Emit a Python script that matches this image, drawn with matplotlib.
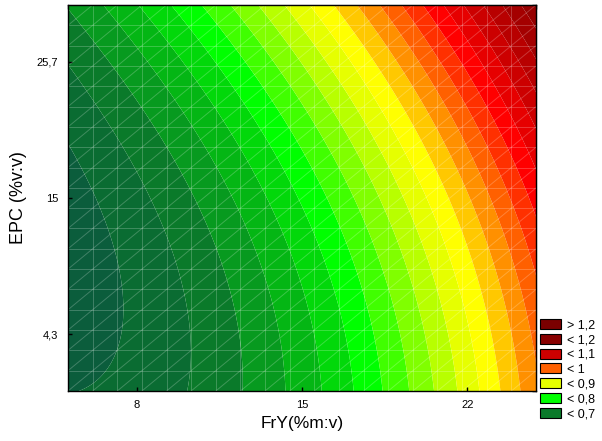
import numpy as np
import matplotlib
matplotlib.use("Agg")
import matplotlib.pyplot as plt
from matplotlib.patches import Patch
from matplotlib.collections import LineCollection

plt.rcParams['font.family'] = ['Liberation Sans', 'DejaVu Sans']

# ---- data -------------------------------------------------------------
fry_range = [5.1, 24.9]          # FrY (%m:v) axis range
epc_range = [-0.13, 30.13]       # EPC (%v:v) axis range
center = [15.0, 15.0]            # design centre (FrY, EPC)

# fitted response surface (centred variables u=FrY-15, v=EPC-15)
b0 = 0.7783
b_fry = 0.01993
b_epc = 0.005168
b_fry2 = 0.000599
b_epc2 = 0.0001568
b_fry_epc = 0.0002462
b_fry2_epc = -0.00001008

contour_levels = [0.6, 0.65, 0.675, 0.7, 0.725, 0.75, 0.775, 0.8, 0.825, 0.85,
                  0.875, 0.9, 0.925, 0.95, 0.975, 1.0, 1.025, 1.05, 1.075, 1.1,
                  1.125, 1.15, 1.175, 1.2, 1.3]
band_colors = ['#0b5d3c', '#0a6c32', '#0a7a2a', '#079a1f', '#04b614', '#02d80a',
               '#00ff00', '#40ff00', '#80ff00', '#b8ff00', '#e6ff00', '#ffff00',
               '#ffc800', '#ff9000', '#ff6000', '#ff3000', '#ff0000', '#e60000',
               '#cc0000', '#b80000', '#a40000', '#960000', '#880000', '#7a0000']

legend_labels = ['> 1,2', '< 1,2', '< 1,1', '< 1', '< 0,9', '< 0,8', '< 0,7']
legend_upper = [1.3, 1.2, 1.1, 1.0, 0.9, 0.8, 0.7]

x_ticks = [8, 15, 22]
x_ticklabels = ['8', '15', '22']
y_ticks = [4.3, 15, 25.7]
y_ticklabels = ['4,3', '15', '25,7']

mesh_cells = 19
# -----------------------------------------------------------------------

fig = plt.figure(figsize=(6.02, 4.41), dpi=100)
ax = fig.add_axes([68/602, 1-391/441, (536-68)/602, (391-5)/441])

xs = np.linspace(fry_range[0], fry_range[1], 400)
ys = np.linspace(epc_range[0], epc_range[1], 400)
X, Y = np.meshgrid(xs, ys)
u = X - center[0]
v = Y - center[1]
Z = (b0 + b_fry*u + b_epc*v + b_fry2*u**2 + b_epc2*v**2 + b_fry_epc*u*v
     + b_fry2_epc*u**2*v)

ax.contourf(X, Y, Z, levels=contour_levels, colors=band_colors, antialiased=True)

# faint triangulation mesh
gx = np.linspace(fry_range[0], fry_range[1], mesh_cells + 1)
gy = np.linspace(epc_range[0], epc_range[1], mesh_cells + 1)
mesh_kw = dict(color='white', alpha=0.22, lw=0.7)
ax.vlines(gx[1:-1], epc_range[0], epc_range[1], **mesh_kw)
ax.hlines(gy[1:-1], fry_range[0], fry_range[1], **mesh_kw)
segs = [[(gx[i], gy[j]), (gx[i+1], gy[j+1])]
        for i in range(mesh_cells) for j in range(mesh_cells)]
ax.add_collection(LineCollection(segs, **mesh_kw))

ax.set_xlim(fry_range)
ax.set_ylim(epc_range)

ax.set_xticks(x_ticks)
ax.set_xticklabels(x_ticklabels)
ax.set_yticks(y_ticks)
ax.set_yticklabels(y_ticklabels)
ax.tick_params(direction='in', length=3, width=1, labelsize=8, colors='black')
ax.tick_params(axis='x', pad=6.5)
ax.tick_params(axis='y', pad=7)

for s in ax.spines.values():
    s.set_linewidth(1.0)
    s.set_color('black')

top = ax.secondary_xaxis('top')
top.set_xticks(np.linspace(fry_range[0], fry_range[1], 9))
top.set_xticklabels([])
top.tick_params(direction='in', length=3, width=1)
right = ax.secondary_yaxis('right')
right.set_yticks(np.linspace(epc_range[0], epc_range[1], 9))
right.set_yticklabels([])
right.tick_params(direction='in', length=3, width=1)

ax.set_xlabel('FrY(%m:v)', fontsize=12.5)
ax.xaxis.set_label_coords(0.5, -0.066)
ax.set_ylabel('EPC (%v:v)', fontsize=13)
ax.yaxis.set_label_coords(-0.087, 0.5)

handles = []
for lab, up in zip(legend_labels, legend_upper):
    idx = contour_levels.index(up) - 1
    handles.append(Patch(facecolor=band_colors[idx], edgecolor='black', lw=0.8, label=lab))
fig.legend(handles=handles, loc='upper left', bbox_to_anchor=(540/602, 1-319/441),
           frameon=False, fontsize=9, handlelength=1.7, handleheight=0.85,
           handletextpad=0.45, labelspacing=0.2, borderpad=0, borderaxespad=0)

fig.savefig('out.png', dpi=100)
